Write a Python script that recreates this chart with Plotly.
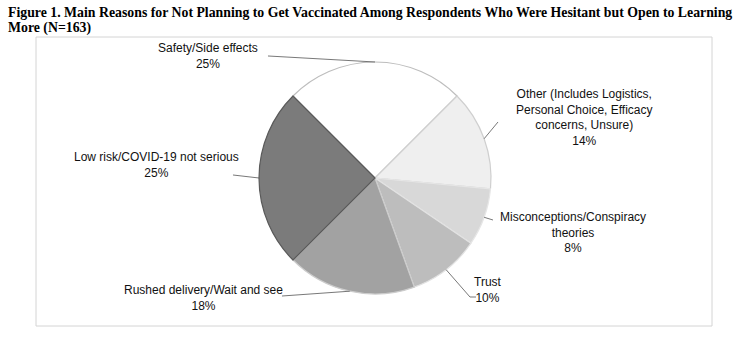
import math
import plotly.graph_objects as go

# ---- data ----
categories = [
    "Safety/Side effects",
    "Other (Includes Logistics, Personal Choice, Efficacy concerns, Unsure)",
    "Misconceptions/Conspiracy theories",
    "Trust",
    "Rushed delivery/Wait and see",
    "Low risk/COVID-19 not serious",
]
values = [25, 14, 8, 10, 18, 25]
label_texts = [
    "Safety/Side effects<br>25%",
    "Other (Includes Logistics,<br>Personal Choice, Efficacy<br>concerns, Unsure)<br>14%",
    "Misconceptions/Conspiracy<br>theories<br>8%",
    "Trust<br>10%",
    "Rushed delivery/Wait and see<br>18%",
    "Low risk/COVID-19 not serious<br>25%",
]
colors = ["#ffffff", "#efefef", "#d8d8d8", "#bdbdbd", "#a2a2a2", "#7b7b7b"]
line_colors = ["#bdbdbd", "#cfcfcf", "#e6e6e6", "#e2e2e2", "#cccccc", "#5a5a5a"]

title_line1 = "Figure 1. Main Reasons for Not Planning to Get Vaccinated Among Respondents Who Were Hesitant but Open to Learning"
title_line2 = "More (N=163)"

# ---- layout geometry (pixels) ----
W, H = 745, 339
CX, CY, R = 375, 178, 116
ROTATION = -45

# label centres (px) and leader line label-side points (px)
label_pos = [(208, 56), (584, 117), (573, 232), (488, 290), (203, 298), (156, 165)]
leader_ends = [
    [(268, 56)],
    [(498, 122)],
    [(493, 220)],
    [(470, 297), (476, 297)],
    [(282, 296)],
    [(233, 175)],
]


def px(x):
    return x / W


def py(y):
    return 1 - y / H


fig = go.Figure()
fig.add_trace(go.Pie(
    labels=categories,
    values=values,
    sort=False,
    direction="clockwise",
    rotation=ROTATION,
    textinfo="none",
    hoverinfo="label+percent",
    showlegend=False,
    marker=dict(colors=colors, line=dict(color=line_colors, width=1.2)),
    domain=dict(x=[px(CX - R), px(CX + R)], y=[py(CY + R), py(CY - R)]),
))

shapes = [dict(type="rect", xref="paper", yref="paper",
               x0=px(36), x1=px(712), y0=py(326), y1=py(37),
               line=dict(color="#d4d4d4", width=1), layer="below")]

annotations = []
total = sum(values)
cum = 0
for i, v in enumerate(values):
    mid = ROTATION + (cum + v / 2) / total * 360
    cum += v
    t = math.radians(mid)
    ex, ey = CX + R * math.sin(t), CY - R * math.cos(t)
    pts = [(ex, ey)] + leader_ends[i]
    path = "M " + " L ".join(f"{px(a):.5f},{py(b):.5f}" for a, b in pts)
    shapes.append(dict(type="path", xref="paper", yref="paper", path=path,
                       line=dict(color="#555555", width=0.8)))
    lx, ly = label_pos[i]
    annotations.append(dict(xref="paper", yref="paper", x=px(lx), y=py(ly),
                            text=label_texts[i], showarrow=False,
                            xanchor="center", yanchor="middle", align="center",
                            font=dict(family="Liberation Sans, Arial", size=12, color="#111111")))

for txt, y in [(title_line1, 12), (title_line2, 28)]:
    annotations.append(dict(xref="paper", yref="paper", x=px(6), y=py(y),
                            text=f"<b>{txt}</b>", showarrow=False,
                            xanchor="left", yanchor="middle", align="left",
                            font=dict(family="Liberation Serif, Times New Roman", size=13.8, color="#000000")))

fig.update_layout(
    width=W, height=H,
    margin=dict(l=0, r=0, t=0, b=0),
    paper_bgcolor="white", plot_bgcolor="white",
    shapes=shapes, annotations=annotations,
)

fig.write_html("out.html")
